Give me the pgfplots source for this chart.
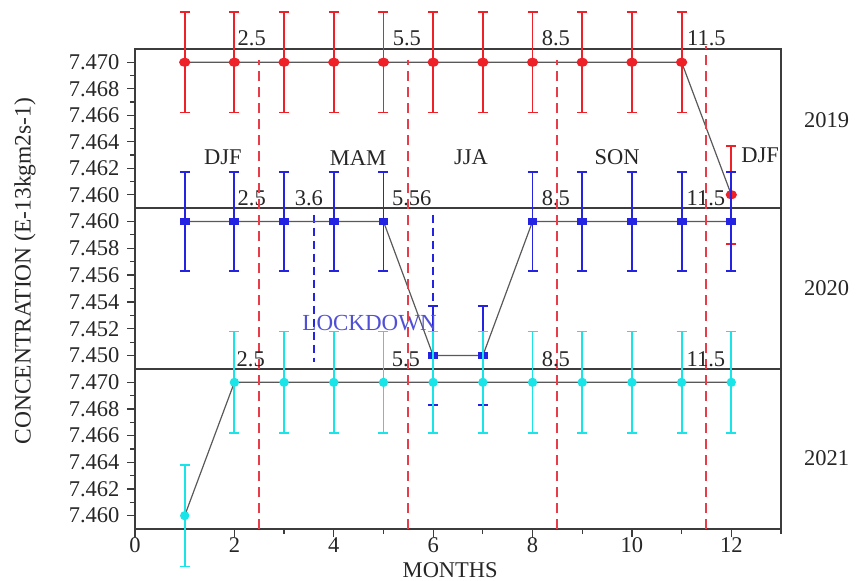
\documentclass[border=0pt]{standalone}
\usepackage{fontspec}
\setmainfont{Liberation Serif}
\usepackage{pgfplots}
\pgfplotsset{compat=1.18}
\definecolor{cred}{RGB}{238,32,40}
\definecolor{cblue}{RGB}{35,35,225}
\definecolor{ccyan}{RGB}{25,228,232}
\definecolor{cdash}{RGB}{232,60,72}
\definecolor{clock}{RGB}{80,80,215}
\definecolor{cframe}{RGB}{60,60,60}
\tikzset{lbl/.style={font=\fontsize{22.5}{26}\selectfont, text=black!85, inner sep=0pt}}
\begin{document}
\begin{tikzpicture}
\useasboundingbox (0pt,0pt) rectangle (863pt,-581pt);
\pgfplotsset{
  panel/.style={
    scale only axis, width=646pt, xmin=0, xmax=13, clip=false,
    anchor=north west,
    axis line style={draw=cframe, line width=1.6pt},
    tick align=outside, ytick pos=left, xtick pos=bottom,
    major tick length=8pt, minor tick length=5pt,
    every tick/.style={cframe, line width=1.3pt},
    tick label style={font=\fontsize{22.5}{26}\selectfont, text=black!85},
    yticklabel style={xshift=-4pt},
    xticklabel style={yshift=3pt},
    /pgf/number format/assume math mode=true,
    scaled y ticks=false,
    yticklabel style={/pgf/number format/.cd, fixed, fixed zerofill, precision=3},
  },
  conn/.style={draw=black!65, line width=1.2pt},
  ebar/.style={error bars/.cd, y dir=both, y explicit,
    error bar style={#1, line width=1.8pt},
    error mark options={rotate=90, #1, mark size=5pt, line width=1.6pt}},
}
% ---------------- 2019 ----------------
\begin{axis}[panel, at={(135pt,-49pt)}, height=159pt,
  ymin=7.459, ymax=7.471,
  ytick={7.460,7.462,7.464,7.466,7.468,7.470},
  minor ytick={7.461,7.463,7.465,7.467,7.469},
  xtick=\empty]
\addplot[conn, mark=*, mark size=4pt, mark options={fill=cred, draw=cred, xscale=1.25}, ebar=cred]
  coordinates {
  (1,7.470) +- (0,0.0038) (2,7.470) +- (0,0.0038) (3,7.470) +- (0,0.0038)
  (4,7.470) +- (0,0.0038) (5,7.470) +- (0,0.0038) (6,7.470) +- (0,0.0038)
  (7,7.470) +- (0,0.0038) (8,7.470) +- (0,0.0038) (9,7.470) +- (0,0.0038)
  (10,7.470) +- (0,0.0038) (11,7.470) +- (0,0.0038) (12,7.460) +- (0,0.0037)};
\node[lbl] at (axis cs:2.35,7.4718) {2.5};
\node[lbl] at (axis cs:5.47,7.4718) {5.5};
\node[lbl] at (axis cs:8.47,7.4718) {8.5};
\node[lbl] at (axis cs:11.5,7.4718) {11.5};
\node[lbl] at (axis cs:1.77,7.4628) {DJF};
\node[lbl] at (axis cs:4.49,7.4628) {MAM};
\node[lbl] at (axis cs:6.76,7.4628) {JJA};
\node[lbl] at (axis cs:9.70,7.4628) {SON};
\node[lbl] at (axis cs:12.58,7.4630) {DJF};
\node[lbl] at (axis cs:13.92,7.4656) {2019};
\end{axis}
% ---------------- 2020 ----------------
\begin{axis}[panel, at={(135pt,-208pt)}, height=161pt,
  ymin=7.449, ymax=7.461,
  ytick={7.450,7.452,7.454,7.456,7.458,7.460},
  minor ytick={7.451,7.453,7.455,7.457,7.459},
  xtick=\empty]
\addplot[cblue, dash pattern=on 8pt off 5pt, line width=1.8pt] coordinates {(3.6,7.4605) (3.6,7.4495)};
\addplot[cblue, dash pattern=on 8pt off 5pt, line width=1.8pt] coordinates {(6,7.4605) (6,7.4538)};
\addplot[conn, mark=square*, mark size=3.6pt, mark options={fill=cblue, draw=cblue, yscale=0.7, xscale=1.2}, ebar=cblue]
  coordinates {
  (1,7.460) +- (0,0.0037) (2,7.460) +- (0,0.0037) (3,7.460) +- (0,0.0037)
  (4,7.460) +- (0,0.0037) (5,7.460) +- (0,0.0037) (6,7.450) +- (0,0.0037)
  (7,7.450) +- (0,0.0037) (8,7.460) +- (0,0.0037) (9,7.460) +- (0,0.0037)
  (10,7.460) +- (0,0.0037) (11,7.460) +- (0,0.0037) (12,7.460) +- (0,0.0037)};
\node[lbl] at (axis cs:2.35,7.4617) {2.5};
\node[lbl] at (axis cs:3.50,7.4617) {3.6};
\node[lbl] at (axis cs:5.57,7.4617) {5.56};
\node[lbl] at (axis cs:8.47,7.4617) {8.5};
\node[lbl] at (axis cs:11.49,7.4617) {11.5};
\node[lbl, text=clock, font=\fontsize{23}{26}\selectfont] at (axis cs:4.72,7.4524) {LOCKDOWN};
\node[lbl] at (axis cs:13.92,7.4550) {2020};
\end{axis}
% ---------------- 2021 ----------------
\begin{axis}[panel, at={(135pt,-369pt)}, height=160pt,
  ymin=7.459, ymax=7.471,
  ytick={7.460,7.462,7.464,7.466,7.468,7.470},
  minor ytick={7.461,7.463,7.465,7.467,7.469},
  xtick={0,2,4,6,8,10,12}, minor xtick={1,3,5,7,9,11,13},
  xticklabel style={/pgf/number format/.cd, fixed, precision=0}]
\addplot[conn, mark=*, mark size=4pt, mark options={fill=ccyan, draw=ccyan}, ebar=ccyan]
  coordinates {
  (1,7.460) +- (0,0.0038) (2,7.470) +- (0,0.0038) (3,7.470) +- (0,0.0038)
  (4,7.470) +- (0,0.0038) (5,7.470) +- (0,0.0038) (6,7.470) +- (0,0.0038)
  (7,7.470) +- (0,0.0038) (8,7.470) +- (0,0.0038) (9,7.470) +- (0,0.0038)
  (10,7.470) +- (0,0.0038) (11,7.470) +- (0,0.0038) (12,7.470) +- (0,0.0038)};
\addplot[cdash, dash pattern=on 10pt off 6pt, line width=2pt] coordinates {(2.5,7.459) (2.5,7.4942)};
\addplot[cdash, dash pattern=on 10pt off 6pt, line width=2pt] coordinates {(5.5,7.459) (5.5,7.4942)};
\addplot[cdash, dash pattern=on 10pt off 6pt, line width=2pt] coordinates {(8.5,7.459) (8.5,7.4942)};
\addplot[cdash, dash pattern=on 10pt off 6pt, line width=2pt] coordinates {(11.5,7.459) (11.5,7.4952)};
\node[lbl] at (axis cs:2.33,7.4717) {2.5};
\node[lbl] at (axis cs:5.45,7.4717) {5.5};
\node[lbl] at (axis cs:8.47,7.4717) {8.5};
\node[lbl] at (axis cs:11.49,7.4717) {11.5};
\node[lbl] at (axis cs:13.92,7.4643) {2021};
\node[lbl, yshift=-41pt] at (rel axis cs:0.488,0) {MONTHS};
\end{axis}
\node[lbl, rotate=90, font=\fontsize{23.5}{26}\selectfont] at (25pt,-271pt) {CONCENTRATION (E-13kgm2s-1)};
\end{tikzpicture}
\end{document}
